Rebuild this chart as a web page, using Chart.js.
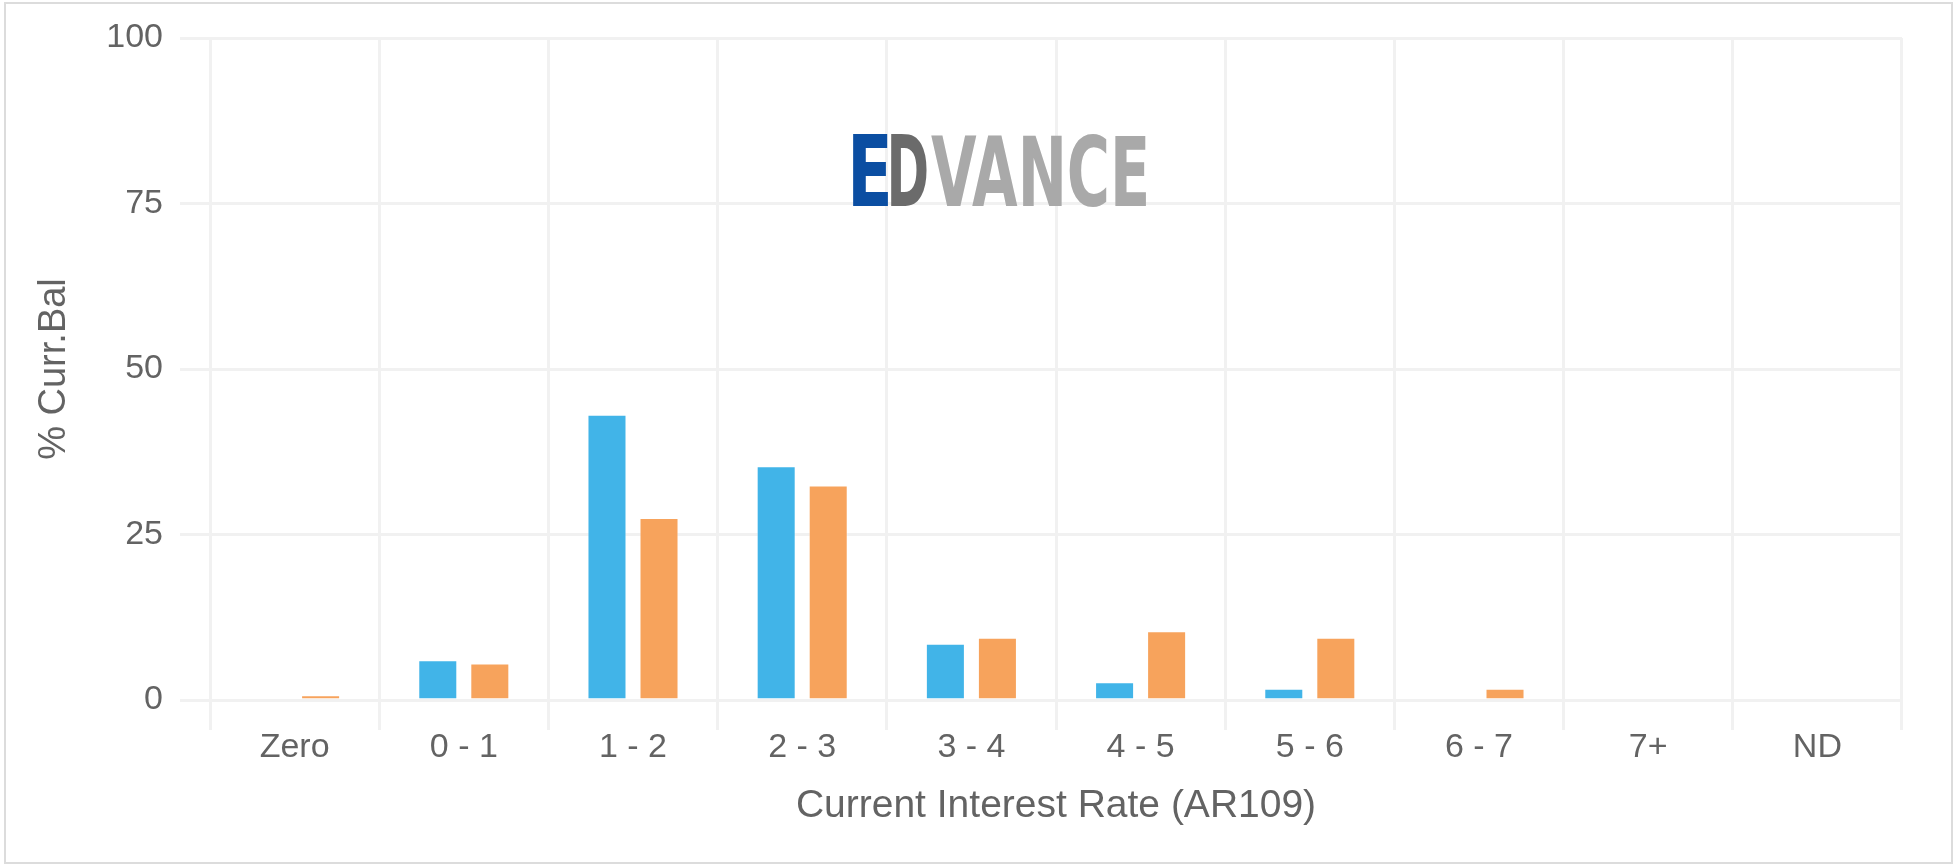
<!DOCTYPE html>
<html>
<head>
<meta charset="utf-8">
<script src="https://cdn.jsdelivr.net/npm/chart.js@4"></script>
<style>
    body { margin: 0; background: #ffffff; }
    #frame {
        position: absolute;
        left: 4px;
        top: 2px;
        width: 1945px;
        height: 858px;
        border: 2px solid #dcdcdc;
        background: #ffffff;
    }
    #chart { display: block; }
</style>
</head>
<body>
<div id="frame"><canvas id="chart" width="1945" height="858"></canvas></div>
<script>
const categories = ['Zero', '0 - 1', '1 - 2', '2 - 3', '3 - 4', '4 - 5', '5 - 6', '6 - 7', '7+', 'ND'];
const seriesA = [0, 6.0, 43.1, 35.3, 8.5, 2.7, 1.7, 0, 0, 0];
const seriesB = [0.7, 5.5, 27.5, 32.4, 9.4, 10.4, 9.4, 1.7, 0, 0];
const yTicks = [0, 25, 50, 75, 100];

const textColor = '#636363';
const gridColor = '#f1f1f1';
const fontFamily = '"Liberation Sans", Arial, sans-serif';

// EDVANCE watermark, each part squeezed into its own box, drawn over the grid
const logoPlugin = {
    id: 'logo',
    beforeDatasetsDraw(chart) {
        const ctx = chart.ctx;
        const base = 202, capHeight = 72, size = 100;
        const parts = [
            { text: 'E', x: 847, w: 35, color: '#0b4ea2' },
            { text: 'D', x: 885, w: 36, color: '#6b6b6b' },
            { text: 'VANCE', x: 925, w: 215, color: '#a9a9a9' }
        ];
        ctx.save();
        ctx.font = 'bold ' + size + 'px "Liberation Sans Narrow", "DejaVu Sans Condensed", "Liberation Sans", sans-serif';
        ctx.textBaseline = 'alphabetic';
        ctx.textAlign = 'left';
        parts.forEach(p => {
            const m = ctx.measureText(p.text);
            const inkW = m.actualBoundingBoxRight + m.actualBoundingBoxLeft;
            const inkH = m.actualBoundingBoxAscent || 0.716 * size;
            ctx.save();
            ctx.translate(p.x, base);
            ctx.scale(p.w / inkW, capHeight / inkH);
            ctx.fillStyle = p.color;
            ctx.fillText(p.text, m.actualBoundingBoxLeft, 0);
            ctx.restore();
        });
        ctx.restore();
    }
};

const ctx = document.getElementById('chart').getContext('2d');
new Chart(ctx, {
    type: 'bar',
    data: {
        labels: categories,
        datasets: [{
            label: 'Series 1',
            data: seriesA,
            backgroundColor: '#41b4e8',
            borderColor: 'rgba(255,255,255,0.45)',
            borderWidth: 1,
            barPercentage: 0.75,
            categoryPercentage: 0.615
        }, {
            label: 'Series 2',
            data: seriesB,
            backgroundColor: '#f7a35c',
            borderColor: 'rgba(255,255,255,0.45)',
            borderWidth: 1,
            barPercentage: 0.75,
            categoryPercentage: 0.615
        }]
    },
    options: {
        responsive: false,
        animation: false,
        layout: { padding: { top: 33, right: 49, bottom: 0, left: 0 } },
        plugins: {
            legend: { display: false },
            tooltip: { enabled: false },
            title: { display: false }
        },
        scales: {
            x: {
                border: { display: false },
                grid: { color: gridColor, lineWidth: 3, tickLength: 30, offset: true },
                ticks: {
                    color: textColor,
                    padding: 1,
                    font: { family: fontFamily, size: 34, lineHeight: 1 }
                },
                title: {
                    display: true,
                    text: 'Current Interest Rate (AR109)',
                    color: textColor,
                    font: { family: fontFamily, size: 39, lineHeight: 1.2 },
                    padding: { top: 20, bottom: 32 }
                },
                afterFit(scale) { scale.height = 162; }
            },
            y: {
                min: 0,
                max: 100,
                border: { display: false },
                grid: { color: gridColor, lineWidth: 3, tickLength: 30 },
                afterBuildTicks(scale) { scale.ticks = yTicks.map(v => ({ value: v })); },
                ticks: {
                    color: textColor,
                    padding: 17,
                    font: { family: fontFamily, size: 34, lineHeight: 1 }
                },
                title: {
                    display: true,
                    text: '% Curr.Bal',
                    color: textColor,
                    font: { family: fontFamily, size: 38, lineHeight: 1.2 },
                    padding: { top: 26, bottom: 30 }
                },
                afterFit(scale) { scale.width = 204; }
            }
        }
    },
    plugins: [logoPlugin]
});
</script>
</body>
</html>
